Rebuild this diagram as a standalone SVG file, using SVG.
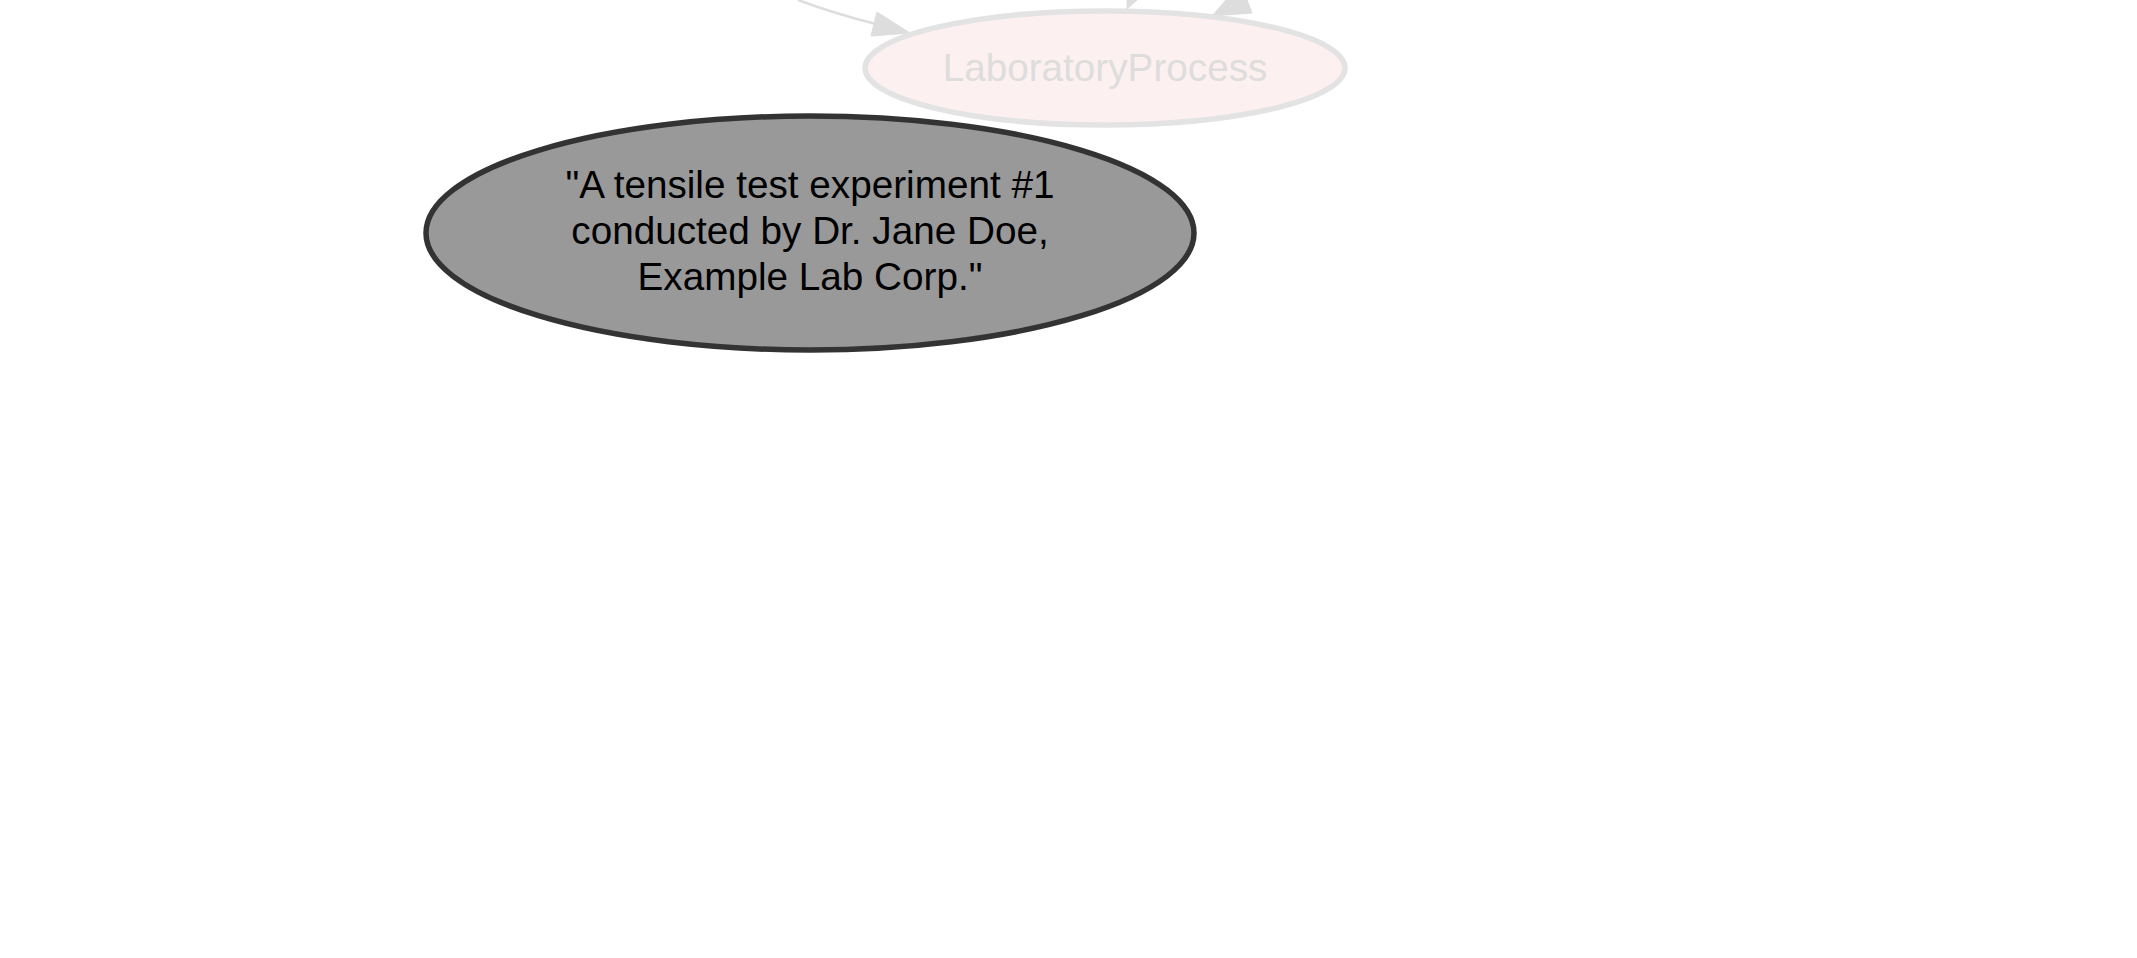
<svg xmlns="http://www.w3.org/2000/svg" width="2137" height="958" viewBox="0 0 2137 958">
<style>
.faded-edge{fill:none;stroke:#dddddd;stroke-width:2.5}
.faded-head{fill:#dddddd;stroke:#dddddd;stroke-width:1}
.faded-node{fill:#fdf0f0;stroke:#e3e3e3;stroke-width:5.5}
.faded-text{fill:#dddddd;font-family:"Liberation Sans",Arial,sans-serif;font-size:38.7px;text-anchor:middle}
.main-node{fill:#999999;stroke:#333333;stroke-width:5.5}
.main-text{fill:#000000;font-family:"Liberation Sans",Arial,sans-serif;font-size:38.7px;text-anchor:middle}
</style>
<rect width="2137" height="958" fill="#ffffff"/>
<g id="connectors">
<path class="faded-edge" d="M798,0 C825,10 852,18 876,24"/>
<polygon class="faded-head" points="877,12 871,36 910,33"/>
<polygon class="faded-head" points="1127,0 1137,0 1127,9"/>
<polygon class="faded-head" points="1212,16 1226,0 1247,0 1252,13"/>
</g>
<g id="node-laboratoryprocess">
<ellipse class="faded-node" cx="1105" cy="68" rx="240" ry="57"/>
<text class="faded-text" x="1105" y="81">LaboratoryProcess</text>
</g>
<g id="node-description">
<ellipse class="main-node" cx="810" cy="233" rx="384" ry="117"/>
<text class="main-text" x="810" y="198">"A tensile test experiment #1</text>
<text class="main-text" x="810" y="244">conducted by Dr. Jane Doe,</text>
<text class="main-text" x="810" y="290">Example Lab Corp."</text>
</g>
</svg>
